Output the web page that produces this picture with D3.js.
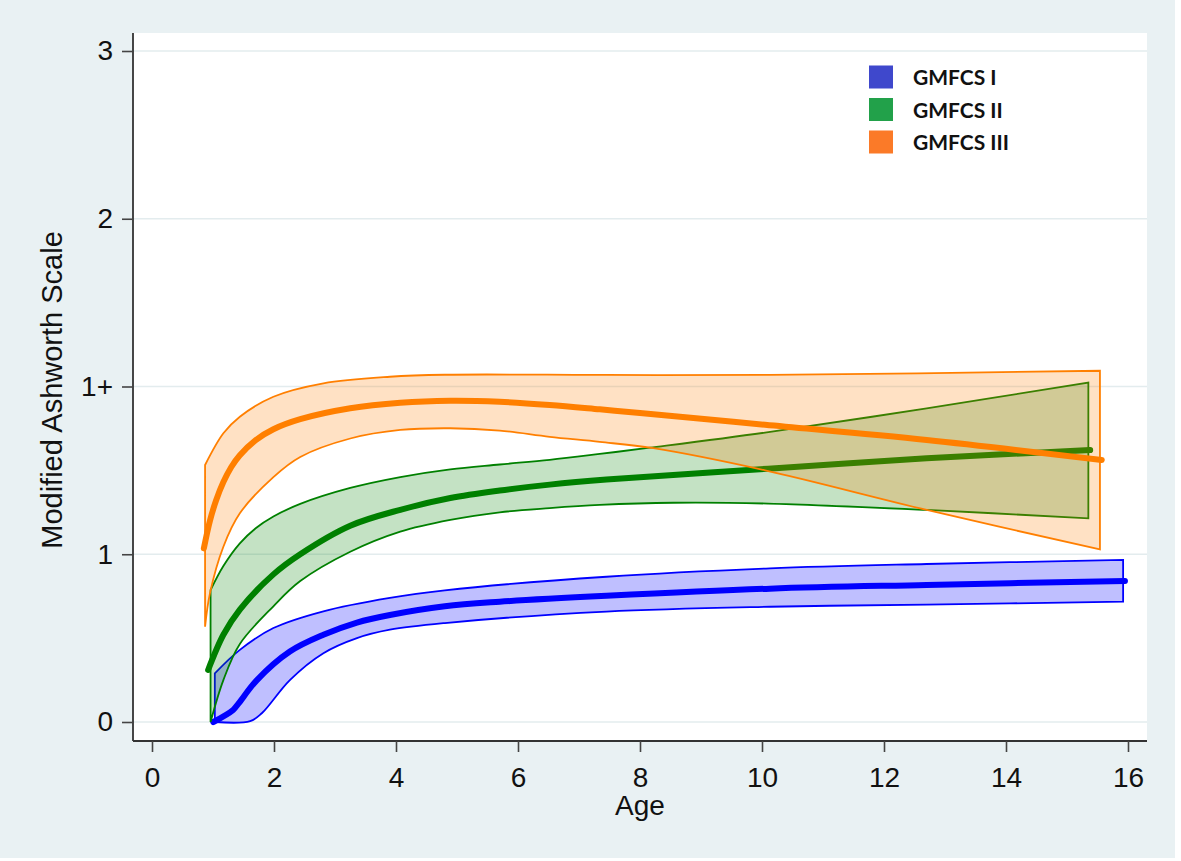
<!DOCTYPE html>
<html><head><meta charset="utf-8">
<script src="https://cdn.jsdelivr.net/npm/d3@7"></script>
<style>body{margin:0;background:#fff}</style>
</head><body>
<svg id="c" width="1181" height="861"></svg>
<script>
// ---- data ----
const xTicks = [0,2,4,6,8,10,12,14,16];
const yTickValues = [0,1,2,3,4];
const yTickLabels = ["0","1","1+","2","3"];
const seriesNames = ["GMFCS I","GMFCS II","GMFCS III"];

const g1Mean  = [[1.005,0],[1.33,0.072],[1.42,0.111],[1.72,0.25],[2.26,0.42],[2.81,0.52],[3.36,0.593],[3.9,0.638],[4.8,0.69],[5.7,0.717],[7.45,0.752],[10.13,0.795],[12.7,0.817],[15.95,0.841]];
const g1Upper = [[1.03,0.29],[1.44,0.43],[1.99,0.56],[2.81,0.66],[3.9,0.74],[4.8,0.785],[7.45,0.866],[10.13,0.916],[12.7,0.942],[15.92,0.966]];
const g1Lower = [[1.03,0],[1.61,0.005],[1.8,0.052],[2.26,0.25],[2.81,0.41],[3.36,0.5],[3.9,0.55],[4.8,0.59],[7.45,0.658],[10.13,0.687],[12.7,0.70],[15.92,0.717]];

const g2Mean  = [[0.92,0.31],[1.17,0.52],[1.44,0.67],[1.99,0.88],[2.43,1.0],[3.25,1.17],[4.07,1.265],[4.89,1.335],[5.7,1.38],[6.52,1.415],[7.45,1.445],[10.1,1.51],[12.7,1.572],[15.38,1.621]];
const g2Upper = [[0.96,0.787],[1.17,0.93],[1.44,1.065],[1.7,1.155],[1.99,1.225],[2.43,1.3],[3.25,1.395],[4.07,1.46],[4.89,1.506],[5.7,1.535],[6.52,1.563],[7.34,1.598],[8.16,1.635],[10.05,1.725],[12.7,1.87],[15.35,2.023]];
const g2Lower = [[0.96,0],[1.17,0.25],[1.44,0.465],[1.99,0.69],[2.43,0.84],[3.25,1.015],[4.07,1.135],[4.89,1.205],[5.7,1.25],[6.52,1.275],[7.34,1.294],[8.55,1.307],[10.1,1.302],[12.7,1.264],[15.35,1.214]];

const g3Mean  = [[0.85,1.035],[0.95,1.2],[1.05,1.32],[1.17,1.43],[1.3,1.52],[1.44,1.59],[1.7,1.68],[1.99,1.745],[2.43,1.805],[3.25,1.87],[4.07,1.903],[4.89,1.915],[5.7,1.909],[6.52,1.89],[7.34,1.864],[8.0,1.842],[10.05,1.772],[12.7,1.681],[15.57,1.562]];
const g3Upper = [[0.87,1.532],[1.17,1.721],[1.44,1.82],[1.99,1.939],[2.81,2.019],[3.9,2.058],[4.8,2.07],[7.45,2.069],[10.13,2.069],[15.54,2.094]];
const g3Lower = [[0.87,0.568],[0.95,0.767],[1.17,1.045],[1.44,1.244],[1.99,1.46],[2.43,1.58],[3.25,1.69],[4.07,1.741],[4.89,1.751],[5.7,1.737],[6.52,1.7],[7.34,1.67],[8.22,1.632],[10.05,1.5],[12.7,1.264],[15.54,1.029]];

const lineColors = ["#0000ff","#008000","#ff7f00"];
const fillColors = ["rgba(0,0,255,0.25)","rgba(0,128,0,0.23)","rgba(255,127,0,0.23)"];
const legendColors = ["#3f48cc","#22a14a","#fb7a28"];

// ---- layout ----
const svg = d3.select("#c");
svg.append("rect").attr("x",0).attr("y",0).attr("width",1175).attr("height",858).attr("fill","#e9f1f3");
const plot = {l:133, r:1147, t:33, b:741};
svg.append("rect").attr("x",plot.l).attr("y",plot.t).attr("width",plot.r-plot.l).attr("height",plot.b-plot.t).attr("fill","#fff");

const x = d3.scaleLinear().domain([0,16]).range([152,1128]);
const y = d3.scaleLinear().domain([0,4]).range([722,51]);

// gridlines
svg.append("g").selectAll("line").data(yTickValues).join("line")
  .attr("x1",plot.l).attr("x2",plot.r).attr("y1",d=>y(d)).attr("y2",d=>y(d))
  .attr("stroke","#e3ecee").attr("stroke-width",1.5);

const font = "'Liberation Sans', Arial, sans-serif";
const fs = 28;
// axes
const yAxis = d3.axisLeft(y).tickValues(yTickValues).tickFormat((d,i)=>yTickLabels[i]).tickSize(11).tickPadding(9);
const gy = svg.append("g").attr("transform",`translate(${plot.l},0)`).call(yAxis);
gy.select(".domain").attr("d",`M0,${plot.t}V${plot.b}`).attr("stroke","#333").attr("stroke-width",1.8);
const xAxis = d3.axisBottom(x).tickValues(xTicks).tickSize(11).tickPadding(15);
const gx = svg.append("g").attr("transform",`translate(0,${plot.b})`).call(xAxis);
gx.select(".domain").attr("d",`M${plot.l},0H${plot.r}`).attr("stroke","#333").attr("stroke-width",1.8);
[gx,gy].forEach(g=>{
  g.selectAll(".tick line").attr("stroke","#444").attr("stroke-width",1.6);
  g.selectAll(".tick text").attr("font-family",font).attr("font-size",fs).attr("fill","#111");
});

svg.append("text").attr("x",640).attr("y",815).attr("text-anchor","middle")
  .attr("font-family",font).attr("font-size",fs).attr("fill","#111").text("Age");
svg.append("text").attr("transform","translate(62,390) rotate(-90)").attr("text-anchor","middle")
  .attr("font-family",font).attr("font-size",29).attr("fill","#111").text("Modified Ashworth Scale");

// curves
const lineGen = d3.line().x(d=>x(d[0])).y(d=>y(d[1])).curve(d3.curveCatmullRom.alpha(0.5));
function bandPath(up, lo){
  const a = lineGen(up);
  const b = lineGen(lo.slice().reverse());
  return a + "L" + b.slice(1) + "Z";
}
const series = [
  {mean:g1Mean, up:g1Upper, lo:g1Lower},
  {mean:g2Mean, up:g2Upper, lo:g2Lower},
  {mean:g3Mean, up:g3Upper, lo:g3Lower}
];
series.forEach((s,i)=>{
  svg.append("path").attr("d",bandPath(s.up,s.lo))
    .attr("fill",fillColors[i]).attr("stroke",lineColors[i]).attr("stroke-width",1.8).attr("stroke-linejoin","miter");
  svg.append("path").attr("d",lineGen(s.mean)).attr("fill","none")
    .attr("stroke",lineColors[i]).attr("stroke-width",6).attr("stroke-linecap","round").attr("stroke-linejoin","round");
});

// legend
const leg = svg.append("g");
seriesNames.forEach((n,i)=>{
  const cy = 77 + i*32.5;
  leg.append("rect").attr("x",869).attr("y",cy-11.5).attr("width",24).attr("height",23).attr("fill",legendColors[i]);
  leg.append("text").attr("x",913).attr("y",cy+8).attr("font-family","Lato, 'Open Sans', sans-serif")
    .attr("font-weight","bold").attr("font-size",21).attr("fill","#111").text(n);
});
</script>
</body></html>
